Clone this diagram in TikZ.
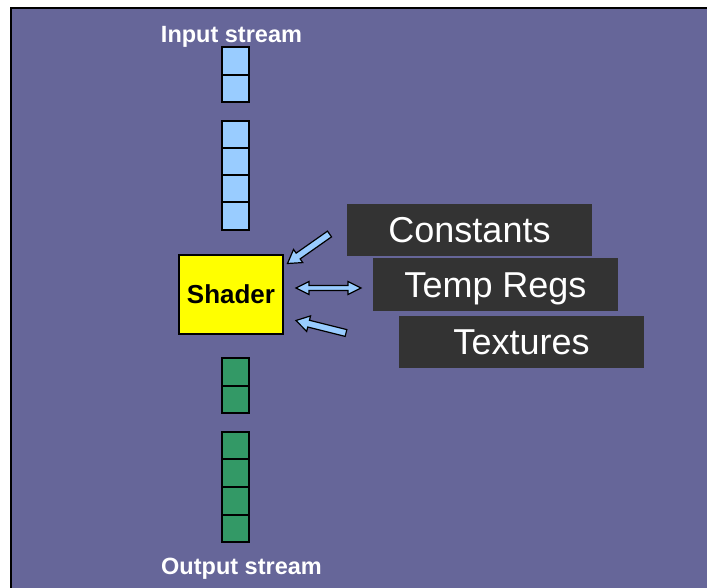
\documentclass[tikz,border=0pt]{standalone}
\usepackage{fontspec}
\setmainfont{Liberation Sans}
\usetikzlibrary{calc}
\definecolor{bgpurple}{HTML}{666699}
\definecolor{inblue}{HTML}{99CCFF}
\definecolor{outgreen}{HTML}{339966}
\definecolor{resgray}{HTML}{333333}
\definecolor{shyellow}{HTML}{FFFF00}
\newcommand{\myblockarrow}[2]{%
  \coordinate (h-#2) at ($(#2)!13pt!(#1)$);
  \draw[blockarrow] (#2) -- ($(h-#2)!8pt!90:(#2)$) -- ($(h-#2)!3.5pt!90:(#2)$)
    -- ($(#1)!3.5pt!90:(#2)$) -- ($(#1)!3.5pt!-90:(#2)$)
    -- ($(h-#2)!3.5pt!-90:(#2)$) -- ($(h-#2)!8pt!-90:(#2)$) -- cycle;}
\begin{document}
\begin{tikzpicture}[x=1pt,y=-1pt,
  sq/.style={draw=black,line width=2pt,minimum width=27pt,minimum height=27.3pt,inner sep=0pt},
  bluesq/.style={sq,fill=inblue},
  greensq/.style={sq,fill=outgreen},
  streamlabel/.style={anchor=base,text=white,font=\fontsize{23.5}{26}\selectfont\bfseries,inner sep=0pt},
  resbox/.style={fill=resgray,text=white,minimum width=245pt,minimum height=52pt,inner sep=0pt,
    font=\fontsize{36}{40}\selectfont,text height=25.8pt,text depth=0pt},
  shaderbox/.style={draw=black,line width=2pt,fill=shyellow,minimum width=104pt,minimum height=79pt,
    inner sep=0pt,font=\fontsize{26}{30}\selectfont\bfseries,text height=18.6pt,text depth=0pt},
  blockarrow/.style={fill=inblue,draw=black,line width=1.2pt,line join=miter}]
\useasboundingbox (0,0) rectangle (707,588);
\fill[white] (0,0) rectangle (707,588);
\begin{scope}
\clip (0,0) rectangle (707,588);
\draw[line width=2pt,fill=bgpurple] (11,8) rectangle (720,600);
\end{scope}
% input stream
\node[streamlabel] (inlabel) at (231.5,43) {Input stream};
\node[bluesq] (i1) at (235.5,61) {};
\node[bluesq] (i2) at (235.5,88.5) {};
\node[bluesq] (i3) at (235.5,134.5) {};
\node[bluesq] (i4) at (235.5,161.5) {};
\node[bluesq] (i5) at (235.5,188.7) {};
\node[bluesq] (i6) at (235.5,216) {};
% shader
\node[shaderbox] (shader) at (231,294.5) {Shader};
% resources
\node[resbox] (const) at (469.5,230) {Constants};
\node[resbox] (temp) at (495.5,284.5) {Temp Regs};
\node[resbox] (tex) at (521.5,341.5) {Textures};
% output stream
\node[greensq] (o1) at (235.5,372) {};
\node[greensq] (o2) at (235.5,399.5) {};
\node[greensq] (o3) at (235.5,445.5) {};
\node[greensq] (o4) at (235.5,473) {};
\node[greensq] (o5) at (235.5,501) {};
\node[greensq] (o6) at (235.5,528.5) {};
\node[streamlabel] (outlabel) at (241.5,574) {Output stream};
% arrows
\coordinate (a1tail) at (329.5,234);
\coordinate (a1tip) at (287.5,263.5);
\myblockarrow{a1tail}{a1tip}
\coordinate (a3tail) at (346,333);
\coordinate (a3tip) at (296,320.5);
\myblockarrow{a3tail}{a3tip}
\coordinate (a2l) at (296,288);
\coordinate (a2r) at (361,288);
\coordinate (a2hl) at ($(a2l)!13pt!(a2r)$);
\coordinate (a2hr) at ($(a2r)!13pt!(a2l)$);
\draw[blockarrow] (a2l) -- ($(a2hl)!6.5pt!90:(a2r)$) -- ($(a2hl)!2.5pt!90:(a2r)$)
  -- ($(a2hr)!2.5pt!-90:(a2l)$) -- ($(a2hr)!6.5pt!-90:(a2l)$) -- (a2r)
  -- ($(a2hr)!6.5pt!90:(a2l)$) -- ($(a2hr)!2.5pt!90:(a2l)$)
  -- ($(a2hl)!2.5pt!-90:(a2r)$) -- ($(a2hl)!6.5pt!-90:(a2r)$) -- cycle;
\end{tikzpicture}
\end{document}
